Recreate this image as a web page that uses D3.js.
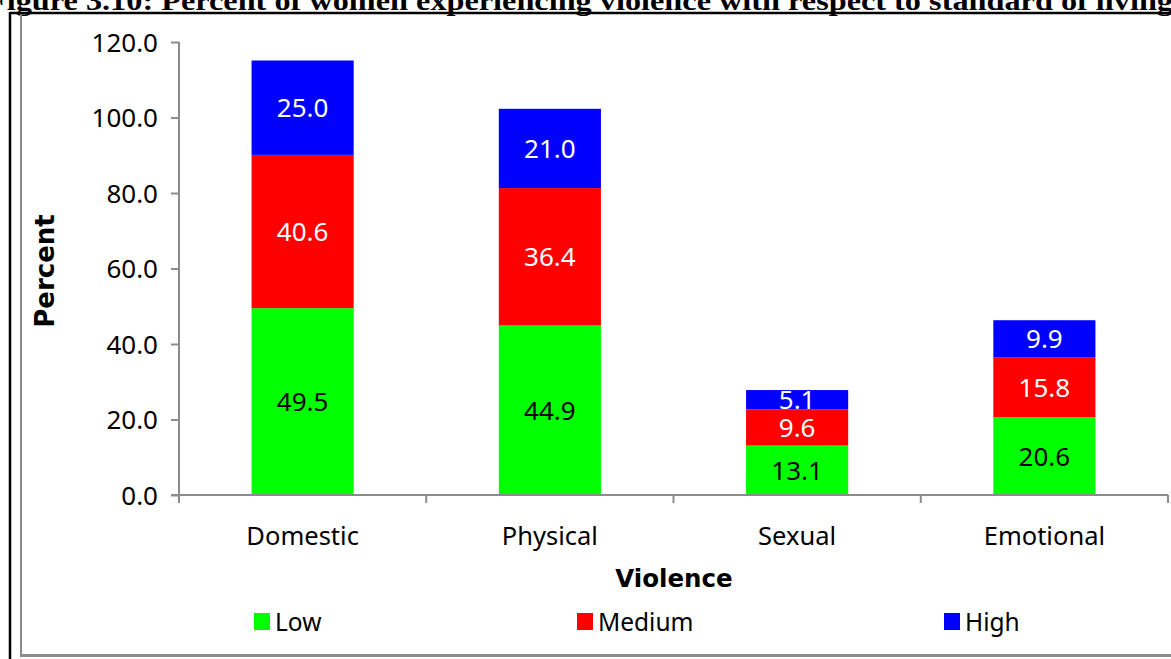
<!DOCTYPE html>
<html><head><meta charset="utf-8">
<script src="https://cdn.jsdelivr.net/npm/d3@7"></script>
<style>
html,body{margin:0;padding:0;background:#fff;overflow:hidden}
svg{display:block}
</style></head>
<body>
<svg id="chart" width="1171" height="659"></svg>
<script>
const titleText = "Figure 3.10: Percent of women experiencing violence with respect to standard of living";
const categories = ["Domestic", "Physical", "Sexual", "Emotional"];
const seriesNames = ["Low", "Medium", "High"];
const lowValues = [49.5, 44.9, 13.1, 20.6];
const mediumValues = [40.6, 36.4, 9.6, 15.8];
const highValues = [25.0, 21.0, 5.1, 9.9];
const yTicks = [0, 20, 40, 60, 80, 100, 120];
const colors = ["#00ff00", "#ff0000", "#0000ff"];
const labelColors = ["#000", "#fff", "#fff"];

const svg = d3.select("#chart");
const font = "'Noto Sans', 'DejaVu Sans', sans-serif";
const boldFont = "'DejaVu Sans', Verdana, sans-serif";

// title (clipped at top)
svg.append("text").attr("x", -13).attr("y", 10)
  .attr("font-family", "'Liberation Serif','Times New Roman',serif")
  .attr("font-weight", "bold").attr("font-size", 27)
  .attr("textLength", 1186).attr("lengthAdjust", "spacingAndGlyphs")
  .text(titleText);

// frames
svg.append("line").attr("x1", 21).attr("x2", 21).attr("y1", 14).attr("y2", 656)
  .attr("stroke", "#8c8c8c").attr("stroke-width", 2);
svg.append("line").attr("x1", 20).attr("x2", 1171).attr("y1", 655.5).attr("y2", 655.5)
  .attr("stroke", "#8c8c8c").attr("stroke-width", 3);
svg.append("line").attr("x1", 10).attr("x2", 1171).attr("y1", 13).attr("y2", 13)
  .attr("stroke", "#000").attr("stroke-width", 2.5);
svg.append("line").attr("x1", 10).attr("x2", 10).attr("y1", 12).attr("y2", 659)
  .attr("stroke", "#000").attr("stroke-width", 2.5);

const x = d3.scaleBand().domain(categories).range([179, 1168]).paddingInner(0.587).paddingOuter(0.2935);
const y = d3.scaleLinear().domain([0, 120]).range([495, 42]);

const data = categories.map((c, i) => ({cat: c, Low: lowValues[i], Medium: mediumValues[i], High: highValues[i]}));
const stacked = d3.stack().keys(seriesNames)(data);

const g = svg.append("g");
stacked.forEach((layer, si) => {
  g.selectAll(null).data(layer).enter().append("rect")
    .attr("x", d => x(d.data.cat))
    .attr("width", x.bandwidth())
    .attr("y", d => y(d[1]))
    .attr("height", d => y(d[0]) - y(d[1]))
    .attr("fill", colors[si]);
  g.selectAll(null).data(layer).enter().append("text")
    .attr("x", d => x(d.data.cat) + x.bandwidth() / 2)
    .attr("y", d => (y(d[0]) + y(d[1])) / 2 + 9.5)
    .attr("text-anchor", "middle")
    .attr("font-family", font).attr("font-size", 26)
    .attr("fill", labelColors[si])
    .text(d => (d[1] - d[0]).toFixed(1));
});

// y axis
const yAxis = svg.append("g").attr("transform", "translate(179,0)")
  .call(d3.axisLeft(y).tickValues(yTicks).tickSize(8).tickPadding(13).tickFormat(d3.format(".1f")));
yAxis.select(".domain").attr("stroke", "#8c8c8c").attr("stroke-width", 2).attr("d", "M0,42V503");
yAxis.selectAll(".tick line").attr("stroke", "#8c8c8c").attr("stroke-width", 2);
yAxis.selectAll(".tick text").attr("font-family", font).attr("font-size", 26).attr("fill", "#000").attr("dy", "0.36em");

// x axis
const xAxisG = svg.append("g").attr("transform", "translate(0,495)");
xAxisG.append("line").attr("x1", 171).attr("x2", 1168).attr("y1", 0).attr("y2", 0)
  .attr("stroke", "#8c8c8c").attr("stroke-width", 2);
const bounds = [179].concat(categories.map(c => x(c) + x.bandwidth() / 2 + x.step() / 2));
xAxisG.selectAll(null).data(bounds).enter().append("line")
  .attr("x1", d => d).attr("x2", d => d).attr("y1", 0).attr("y2", 8)
  .attr("stroke", "#8c8c8c").attr("stroke-width", 2);
xAxisG.selectAll(null).data(categories).enter().append("text")
  .attr("x", d => x(d) + x.bandwidth() / 2).attr("y", 50)
  .attr("text-anchor", "middle").attr("font-family", font).attr("font-size", 25.5)
  .text(d => d);

// axis titles
svg.append("text").attr("x", 674).attr("y", 587).attr("text-anchor", "middle")
  .attr("font-family", boldFont).attr("font-weight", "bold").attr("font-size", 24.5).text("Violence");
svg.append("text").attr("transform", "translate(54,271) rotate(-90)").attr("text-anchor", "middle")
  .attr("font-family", boldFont).attr("font-weight", "bold").attr("font-size", 26).text("Percent");

// legend
const legendX = [254, 577, 944];
const lg = svg.append("g");
seriesNames.forEach((s, i) => {
  lg.append("rect").attr("x", legendX[i]).attr("y", 613).attr("width", 16).attr("height", 17).attr("fill", colors[i]);
  lg.append("text").attr("x", legendX[i] + 21).attr("y", 631)
    .attr("font-family", font).attr("font-size", 24.5).text(s);
});
</script>
</body></html>
